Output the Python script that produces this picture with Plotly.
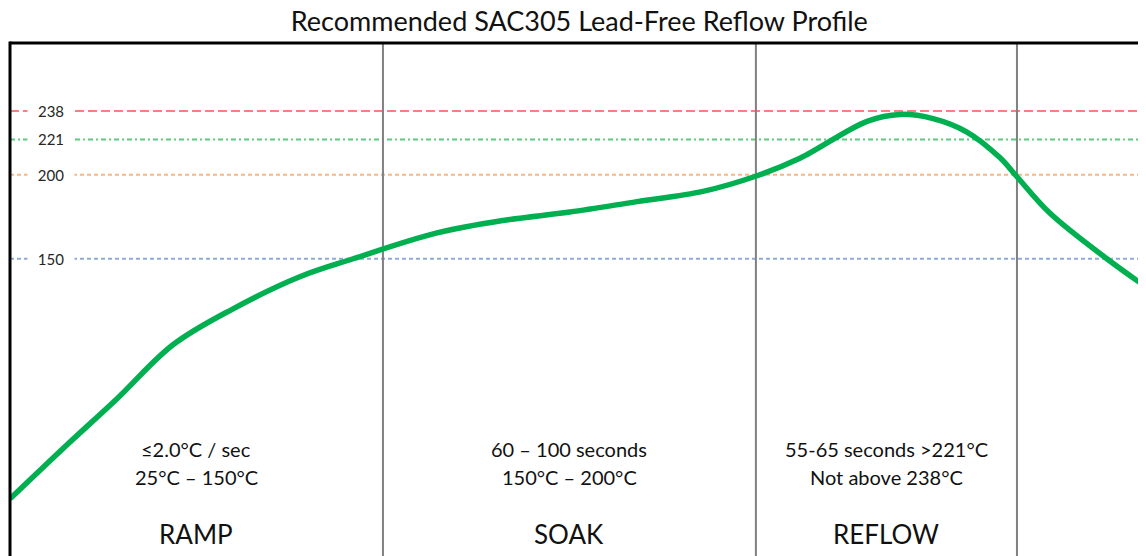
import plotly.graph_objects as go

# Profile curve (time in s, temperature in °C)
time_s = [0, 15.3, 28.7, 43.7, 59.8, 77.7, 92, 114.5, 132.2, 150.1, 168.1, 185.8,
          200.3, 211.8, 229.8, 238.6, 247.5, 256.6, 265.4, 270, 278.8, 294.1, 304.6]
temp_c = [7.1, 39.3, 66.7, 98.8, 120.2, 139.3, 150, 165.4, 172.8, 177.8, 184, 190.1,
          199.4, 209.8, 231.8, 235.9, 233.4, 225.4, 210.2, 198.8, 177.2, 150, 133.3]

# Reference temperature levels
levels = [238, 221, 200, 150]
level_colors = ["#FF7C80", "#5CCB7E", "#F8B584", "#8EAADC"]
level_dash = ["9px,4px", "5px,3px,2px,3px", "4px,3px", "4px,3px"]

# Phase boundaries (s) and labels
phase_bounds = [100, 200, 270]
phase_centers = [50, 150, 235]
phase_names = ["RAMP", "SOAK", "REFLOW"]
phase_line1 = ["≤2.0°C / sec", "60 – 100 seconds", "55-65 seconds >221°C"]
phase_line2 = ["25°C – 150°C", "150°C – 200°C", "Not above 238°C"]

title = "Recommended SAC305 Lead-Free Reflow Profile"
FONT = "Lato"

fig = go.Figure()
fig.add_trace(go.Scatter(x=time_s, y=temp_c, mode="lines",
                         line=dict(color="#00B050", width=5.5, shape="spline", smoothing=1.0),
                         hoverinfo="skip", showlegend=False))

shapes = []
for lv, c, d in zip(levels, level_colors, level_dash):
    shapes.append(dict(type="line", xref="paper", x0=0, x1=1, yref="y", y0=lv, y1=lv,
                       line=dict(color=c, width=2, dash=d), layer="below"))
for b in phase_bounds:
    shapes.append(dict(type="line", xref="x", x0=b, x1=b, yref="paper", y0=0, y1=1,
                       line=dict(color="#808080", width=2), layer="below"))
shapes.append(dict(type="line", xref="paper", x0=0, x1=0, yref="paper", y0=0, y1=1.003,
                   line=dict(color="black", width=3)))
shapes.append(dict(type="line", xref="paper", x0=0, x1=1, yref="paper", y0=1, y1=1,
                   line=dict(color="black", width=3)))

annotations = []
for lv in levels:
    annotations.append(dict(x=11, y=lv, xref="x", yref="y", text=str(lv), showarrow=False,
                            xanchor="center", yanchor="middle",
                            bgcolor="white", width=44, height=12,
                            font=dict(family=FONT, size=15, color="#262626")))
for cx, n, l1, l2 in zip(phase_centers, phase_names, phase_line1, phase_line2):
    for txt, ypx, sz in ((l1, 449, 20), (l2, 477, 20), (n, 534, 26)):
        annotations.append(dict(x=cx, y=(556 - ypx) / 513, xref="x", yref="paper", text=txt,
                                xanchor="center", yanchor="middle", showarrow=False,
                                font=dict(family=FONT, size=sz, color="#111")))

# page body has an 8px margin, so the figure is sized to end at the window edge
fig.update_layout(
    width=1138, height=548,
    margin=dict(l=2, r=0, t=35, b=0),
    paper_bgcolor="white", plot_bgcolor="white",
    title=dict(text=title, x=0.502, xanchor="center", y=0.975, yanchor="middle",
               font=dict(family=FONT, size=27, color="#111")),
    xaxis=dict(range=[0, 304.6], visible=False, fixedrange=True),
    yaxis=dict(range=[-26.9, 278.4], visible=False, fixedrange=True),
    shapes=shapes, annotations=annotations,
)

fig.write_html("out.html")
